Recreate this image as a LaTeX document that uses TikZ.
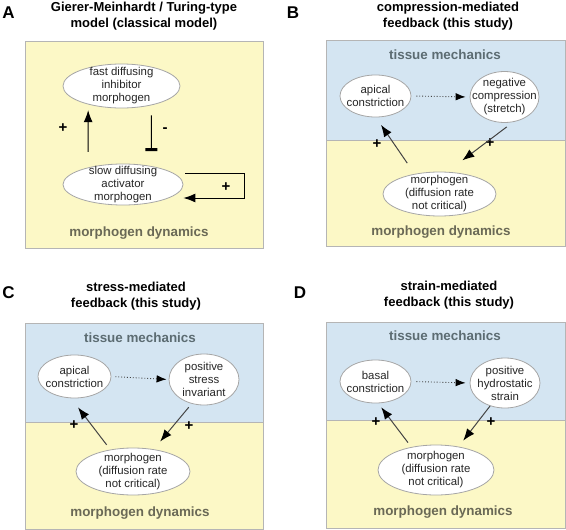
\documentclass[tikz,border=0pt]{standalone}
\usepackage{fontspec}
\setmainfont{Liberation Sans}
\usetikzlibrary{shapes.geometric,arrows.meta}
\definecolor{mechblue}{HTML}{D4E5F2}
\definecolor{dynyellow}{HTML}{FCF8C6}
\definecolor{framegray}{HTML}{B5B5B5}
\definecolor{dyngray}{HTML}{6A6956}
\definecolor{mechgray}{HTML}{5C6C72}
\definecolor{linegray}{HTML}{444444}

\begin{document}
\begin{tikzpicture}[x=1pt,y=-1pt]
        \tikzstyle{blob}=[ellipse, draw=gray!70, fill=white, line width=0.8pt, inner xsep=-8pt, inner ysep=-4pt, align=center, text=black!85, font=\fontsize{11.4}{13}\selectfont]
        \tikzstyle{frame}=[draw=framegray, line width=0.8pt]
        \tikzstyle{title}=[align=center, font=\bfseries\fontsize{13}{15.5}\selectfont]
        \tikzstyle{letter}=[font=\bfseries\fontsize{17}{17}\selectfont]
        \tikzstyle{area}=[font=\bfseries\fontsize{13.4}{16}\selectfont]
        \tikzstyle{sign}=[font=\bfseries\fontsize{15}{15}\selectfont]
        \tikzstyle{edge}=[draw=linegray, line width=1pt, -{Latex[length=12pt,width=9pt,color=black]}]
        \tikzstyle{hint}=[draw=linegray, line width=0.9pt, dotted, -{Latex[length=10pt,width=7.5pt,color=black]}]

        \useasboundingbox (0,0) rectangle (566,530);

        % panel frames
        \draw[frame, fill=dynyellow] (25,41) rectangle (263,248);
        \fill[mechblue]   (326,40)  rectangle (565,140);
        \fill[dynyellow]  (326,140) rectangle (565,246);
        \draw[frame] (326,40) rectangle (565,246) (326,140) -- (565,140);
        \fill[mechblue]   (25,323)  rectangle (263,422);
        \fill[dynyellow]  (25,422)  rectangle (263,529);
        \draw[frame] (25,323) rectangle (263,529) (25,422) -- (263,422);
        \fill[mechblue]   (326,322) rectangle (565,420);
        \fill[dynyellow]  (326,420) rectangle (565,528);
        \draw[frame] (326,322) rectangle (565,528) (326,420) -- (565,420);

        % A
        \node[letter] (la) at (8.5,12.5) {A};
        \node[title]  (ta) at (144,16)   {Gierer-Meinhardt / Turing-type\\model (classical model)};
        \node[blob, minimum width=117, minimum height=44] (fast) at (121.5,86)  {fast diffusing\\inhibitor\\morphogen};
        \node[blob, minimum width=120, minimum height=41] (slow) at (123,184.5) {slow diffusing\\activator\\morphogen};
        \node[sign] (pa1) at (63,128)  {+};
        \node[sign] (ma1) at (165,130) {-};
        \node[sign] (pa2) at (226,187) {+};
        \node[area, text=dyngray] (da) at (139,233) {morphogen dynamics};

        \draw[edge, draw=black, shorten <=15.5pt, shorten >=5.7pt] (slow.154) -- (fast.-151);
        \draw[draw=black, line width=1pt, -{Bar[width=12pt,line width=3pt]}, shorten <=10pt, shorten >=15pt] (fast.-33) -- (slow.33);
        \draw[edge, draw=black] (slow.east) ++(2,-11.5) -- ++(59,0) -- ++(0,25) -- ++(-61,0);

        % B
        \node[letter] (lb) at (293,12.5) {B};
        \node[title]  (tb) at (448,16)   {compression-mediated\\feedback (this study)};
        \node[area, text=mechgray] (mechb) at (445,55)  {tissue mechanics};
        \node[blob, minimum width=71,  minimum height=42] (apb) at (375.5,96) {apical\\constriction};
        \node[blob, minimum width=69,  minimum height=51] (ncb) at (504.5,97) {negative\\compression\\(stretch)};
        \node[blob, minimum width=113, minimum height=44] (mb)  at (439.5,194) {morphogen\\(diffusion rate\\not critical)};
        \node[sign] (pb1) at (377,144) {+};
        \node[sign] (pb2) at (490,143) {+};
        \node[area, text=dyngray] (db) at (441,232) {morphogen dynamics};

        \draw[hint, shorten <=5pt, shorten >=4pt] (apb.east) -- (ncb.west);
        \draw[edge, shorten <=13pt, shorten >=9pt] (mb.141) -- (apb.-89);
        \draw[edge, shorten <=8pt, shorten >=19pt] (ncb.-71) -- (mb.71);

        % C
        \node[letter] (lc) at (8.5,293) {C};
        \node[title]  (tc) at (136,296) {stress-mediated\\feedback (this study)};
        \node[area, text=mechgray] (mechc) at (140,338) {tissue mechanics};
        \node[blob, minimum width=73,  minimum height=43] (apc) at (74.5,376.5) {apical\\constriction};
        \node[blob, minimum width=70,  minimum height=51] (psc) at (204,379.5)  {positive\\stress\\invariant};
        \node[blob, minimum width=114, minimum height=47] (mc)  at (133,471.5)  {morphogen\\(diffusion rate\\not critical)};
        \node[sign] (pc1) at (74,425)  {+};
        \node[sign] (pc2) at (189,426) {+};
        \node[area, text=dyngray] (dc) at (140,513) {morphogen dynamics};

        \draw[hint, shorten <=4pt, shorten >=2pt] (apc.east) -- (psc.west);
        \draw[edge, shorten <=6pt, shorten >=11.5pt] (mc.136) -- (apc.-99);
        \draw[edge, shorten <=4.5pt, shorten >=10pt] (psc.-117) -- (mc.47);

        % D
        \node[letter] (ld) at (300,293) {D};
        \node[title]  (td) at (449,295) {strain-mediated\\feedback (this study)};
        \node[area, text=mechgray] (mechd) at (445,336) {tissue mechanics};
        \node[blob, minimum width=71,  minimum height=43] (bcd) at (375.5,381.5) {basal\\constriction};
        \node[blob, minimum width=70,  minimum height=50] (phd) at (505,383)    {positive\\hydrostatic\\strain};
        \node[blob, minimum width=116, minimum height=50] (md)  at (436,470)    {morphogen\\(diffusion rate\\not critical)};
        \node[sign] (pd1) at (376,422) {+};
        \node[sign] (pd2) at (491,422) {+};
        \node[area, text=dyngray] (dd) at (443,512) {morphogen dynamics};

        \draw[hint, shorten <=5pt, shorten >=4pt] (bcd.east) -- (phd.west);
        \draw[edge, shorten <=5.5pt, shorten >=5pt] (md.137) -- (bcd.-83);
        \draw[edge, shorten >=7.5pt] (phd.-123) -- (md.46);
    \end{tikzpicture}
\end{document}
